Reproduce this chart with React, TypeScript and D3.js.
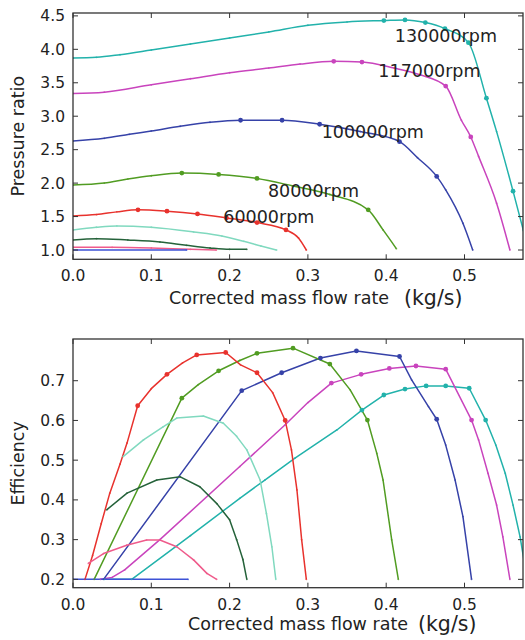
import React from 'react';
import * as d3 from 'd3';

// --- data ---
const speedLabels = ['130000rpm', '117000rpm', '100000rpm', '80000rpm', '60000rpm'];
const colors = ['#22b2ab', '#c944bd', '#3642a8', '#519c22', '#e8322d', '#80d9bf', '#25623a', '#ef5b8b', '#3d52d6'];

const xTicks = [0, 0.1, 0.2, 0.3, 0.4, 0.5];
const prTicks = [1.0, 1.5, 2.0, 2.5, 3.0, 3.5, 4.0, 4.5];
const effTicks = [0.2, 0.3, 0.4, 0.5, 0.6, 0.7];

// pressure ratio curves, order as colors
const pr130 = [[0, 3.87], [0.03, 3.88], [0.06, 3.92], [0.1, 3.99], [0.15, 4.08], [0.2, 4.17], [0.25, 4.26], [0.3, 4.36], [0.35, 4.41], [0.397, 4.43], [0.424, 4.44], [0.45, 4.40], [0.475, 4.31], [0.505, 4.10], [0.528, 3.27], [0.541, 2.77], [0.562, 1.88], [0.575, 1.30], [0.582, 1.0]];
const pr117 = [[0, 3.34], [0.04, 3.36], [0.1, 3.47], [0.15, 3.56], [0.2, 3.65], [0.25, 3.72], [0.29, 3.78], [0.333, 3.82], [0.369, 3.81], [0.41, 3.72], [0.443, 3.62], [0.476, 3.45], [0.496, 2.94], [0.508, 2.69], [0.518, 2.40], [0.541, 1.70], [0.558, 1.0]];
const pr100 = [[0, 2.63], [0.04, 2.67], [0.072, 2.73], [0.1, 2.78], [0.137, 2.85], [0.175, 2.91], [0.214, 2.94], [0.267, 2.94], [0.315, 2.88], [0.367, 2.77], [0.417, 2.62], [0.44, 2.38], [0.4645, 2.10], [0.476, 1.90], [0.498, 1.40], [0.5105, 1.0]];
const pr80 = [[0, 1.97], [0.04, 2.0], [0.07, 2.06], [0.1, 2.11], [0.139, 2.15], [0.186, 2.13], [0.235, 2.07], [0.28, 1.96], [0.328, 1.83], [0.377, 1.60], [0.396, 1.30], [0.413, 1.02]];
const pr60 = [[0, 1.51], [0.03, 1.53], [0.056, 1.57], [0.083, 1.60], [0.12, 1.58], [0.159, 1.54], [0.196, 1.48], [0.235, 1.41], [0.272, 1.30], [0.288, 1.18], [0.298, 1.0]];
const prA = [[0, 1.30], [0.03, 1.34], [0.056, 1.36], [0.1, 1.34], [0.154, 1.27], [0.19, 1.21], [0.218, 1.13], [0.24, 1.06], [0.26, 1.0]];
const prB = [[0, 1.15], [0.03, 1.17], [0.07, 1.15], [0.111, 1.12], [0.145, 1.07], [0.175, 1.03], [0.2, 1.01], [0.222, 1.01]];
const prC = [[0, 1.04], [0.05, 1.04], [0.1, 1.03], [0.15, 1.01], [0.183, 1.0]];
const prD = [[0, 1.0], [0.145, 1.0]];

const prMarks130 = [[0.397, 4.43], [0.424, 4.44], [0.45, 4.40], [0.475, 4.31], [0.505, 4.10], [0.528, 3.27], [0.562, 1.88]];
const prMarks117 = [[0.333, 3.82], [0.369, 3.81], [0.476, 3.45], [0.508, 2.69]];
const prMarks100 = [[0.214, 2.94], [0.267, 2.94], [0.315, 2.88], [0.417, 2.62], [0.4645, 2.10]];
const prMarks80 = [[0.139, 2.15], [0.186, 2.13], [0.235, 2.07], [0.377, 1.60]];
const prMarks60 = [[0.083, 1.60], [0.12, 1.58], [0.159, 1.54], [0.196, 1.48], [0.235, 1.41], [0.272, 1.30]];

// efficiency curves
const ef130 = [[0.04, 0.2], [0.075, 0.2], [0.15, 0.31], [0.213, 0.404], [0.245, 0.45], [0.2835, 0.505], [0.337, 0.576], [0.369, 0.626], [0.397, 0.664], [0.424, 0.679], [0.451, 0.687], [0.476, 0.687], [0.506, 0.681], [0.527, 0.601], [0.540, 0.538], [0.552, 0.467], [0.562, 0.387], [0.571, 0.307], [0.58, 0.2]];
const ef117 = [[0.035, 0.2], [0.05, 0.205], [0.066, 0.224], [0.111, 0.3], [0.213, 0.484], [0.271, 0.589], [0.30, 0.645], [0.330, 0.694], [0.368, 0.716], [0.404, 0.731], [0.438, 0.737], [0.476, 0.729], [0.509, 0.601], [0.518, 0.551], [0.530, 0.467], [0.541, 0.387], [0.549, 0.307], [0.558, 0.2]];
const ef100 = [[0.039, 0.2], [0.2155, 0.675], [0.2665, 0.72], [0.316, 0.757], [0.362, 0.775], [0.417, 0.761], [0.4325, 0.702], [0.454, 0.635], [0.4645, 0.603], [0.476, 0.538], [0.488, 0.45], [0.498, 0.358], [0.509, 0.2]];
const ef80 = [[0.027, 0.2], [0.139, 0.656], [0.16, 0.69], [0.186, 0.725], [0.213, 0.751], [0.235, 0.769], [0.281, 0.782], [0.328, 0.742], [0.354, 0.677], [0.376, 0.601], [0.388, 0.517], [0.396, 0.45], [0.407, 0.30], [0.4155, 0.2]];
const ef60 = [[0.0153, 0.2], [0.025, 0.26], [0.036, 0.34], [0.047, 0.417], [0.06, 0.49], [0.069, 0.543], [0.0826, 0.637], [0.1, 0.68], [0.12, 0.716], [0.14, 0.745], [0.158, 0.765], [0.195, 0.771], [0.214, 0.74], [0.235, 0.72], [0.255, 0.67], [0.271, 0.60], [0.279, 0.526], [0.286, 0.425], [0.292, 0.30], [0.298, 0.2]];
const efA = [[0.064, 0.509], [0.09, 0.551], [0.115, 0.584], [0.1325, 0.606], [0.1665, 0.611], [0.192, 0.593], [0.209, 0.56], [0.222, 0.526], [0.239, 0.45], [0.247, 0.366], [0.254, 0.282], [0.259, 0.2]];
const efB = [[0.043, 0.375], [0.069, 0.417], [0.107, 0.45], [0.137, 0.458], [0.162, 0.433], [0.184, 0.39], [0.2, 0.35], [0.209, 0.3], [0.217, 0.25], [0.222, 0.2]];
const efC = [[0.0196, 0.24], [0.039, 0.265], [0.0686, 0.286], [0.094, 0.299], [0.111, 0.299], [0.1325, 0.282], [0.154, 0.249], [0.171, 0.215], [0.1835, 0.2]];
const efD = [[0, 0.2], [0.147, 0.2]];

const efMarks130 = [[0.369, 0.626], [0.397, 0.664], [0.424, 0.679], [0.451, 0.687], [0.476, 0.687], [0.506, 0.681], [0.527, 0.601]];
const efMarks117 = [[0.330, 0.694], [0.368, 0.716], [0.404, 0.731], [0.438, 0.737], [0.476, 0.729], [0.509, 0.601]];
const efMarks100 = [[0.2155, 0.675], [0.2665, 0.72], [0.316, 0.757], [0.362, 0.775], [0.417, 0.761], [0.4645, 0.603]];
const efMarks80 = [[0.139, 0.656], [0.186, 0.725], [0.235, 0.769], [0.281, 0.782], [0.328, 0.742], [0.376, 0.601]];
const efMarks60 = [[0.0826, 0.637], [0.12, 0.716], [0.158, 0.765], [0.195, 0.771], [0.235, 0.72], [0.271, 0.60]];

const prSeries = [pr130, pr117, pr100, pr80, pr60, prA, prB, prC, prD];
const prMarks = [prMarks130, prMarks117, prMarks100, prMarks80, prMarks60];
const efSeries = [ef130, ef117, ef100, ef80, ef60, efA, efB, efC, efD];
const efMarks = [efMarks130, efMarks117, efMarks100, efMarks80, efMarks60];

// label anchor points (data coords, text baseline start) for the speed lines
const labelPos = [[0.411, 4.11], [0.39, 3.59], [0.3176, 2.667], [0.249, 1.797], [0.192, 1.408]];

const FONT = 'DejaVu Sans';
const W = 525, H = 640;
const left = 73, right = 523;

const x = d3.scaleLinear().domain([0, (right - left) / 783]).range([left, right]);
const yPr = d3.scaleLinear().domain([0.861, 4.543]).range([259.3, 13]);
const yEf = d3.scaleLinear().domain([0.179, 0.805]).range([587.7, 339]);

type Panel = {
  y: d3.ScaleLinear<number, number>;
  ticks: number[];
  fmt: (v: number) => string;
  series: number[][][];
  marks: number[][][];
  curve: d3.CurveFactory;
  id: string;
  ylabel: string;
  xlabelY: number;
  xlabelX: number;
  kgX: number;
};

const Frame = ({ p }: { p: Panel }) => {
  const [y0, y1] = p.y.range();
  const line = d3.line<number[]>().x(d => x(d[0])).y(d => p.y(d[1])).curve(p.curve);
  const tl = 5;
  return (
    <g>
      <defs>
        <clipPath id={p.id}>
          <rect x={left} y={y1} width={right - left} height={y0 - y1} />
        </clipPath>
      </defs>
      <g clipPath={`url(#${p.id})`}>
        {p.series.map((s, i) => (
          <path key={i} d={line(s) || ''} fill="none" stroke={colors[i]} strokeWidth={1.5} strokeLinejoin="round" />
        ))}
        {p.series.map((s, i) =>
          s.map((d, j) => (
            <circle key={`s${i}-${j}`} cx={x(d[0])} cy={p.y(d[1])} r={0.9} fill={colors[i]} opacity={0.8} />
          ))
        )}
        {p.marks.map((m, i) =>
          m.map((d, j) => (
            <circle key={`m${i}-${j}`} cx={x(d[0])} cy={p.y(d[1])} r={2.4} fill={colors[i]} />
          ))
        )}
      </g>
      <rect x={left} y={y1} width={right - left} height={y0 - y1} fill="none" stroke="#333" strokeWidth={1.3} />
      {xTicks.map(t => (
        <g key={`xt${t}`}>
          <line x1={x(t)} x2={x(t)} y1={y0} y2={y0 - tl} stroke="#333" />
          <line x1={x(t)} x2={x(t)} y1={y1} y2={y1 + tl} stroke="#333" />
          <text x={x(t)} y={y0 + 22} textAnchor="middle" fontFamily={FONT} fontSize={15.5} fill="#222">
            {t.toFixed(1)}
          </text>
        </g>
      ))}
      {p.ticks.map(t => (
        <g key={`yt${t}`}>
          <line x1={left} x2={left + tl} y1={p.y(t)} y2={p.y(t)} stroke="#333" />
          <line x1={right} x2={right - tl} y1={p.y(t)} y2={p.y(t)} stroke="#333" />
          <text x={65} y={p.y(t) + 5.5} textAnchor="end" fontFamily={FONT} fontSize={15.5} fill="#222">
            {p.fmt(t)}
          </text>
        </g>
      ))}
      <text transform={`translate(24,${(y0 + y1) / 2}) rotate(-90)`} textAnchor="middle" fontFamily={FONT} fontSize={17.5} fill="#222">
        {p.ylabel}
      </text>
      <text x={p.xlabelX} y={p.xlabelY} fontFamily={FONT} fontSize={17.5} fill="#222">
        Corrected mass flow rate
      </text>
      <text x={p.kgX} y={p.xlabelY + 1} fontFamily={FONT} fontSize={20.5} fill="#222">
        (kg/s)
      </text>
    </g>
  );
};

export default function App() {
  const top: Panel = {
    y: yPr, ticks: prTicks, fmt: v => v.toFixed(1), series: prSeries, marks: prMarks,
    curve: d3.curveMonotoneX, id: 'clipTop', ylabel: 'Pressure ratio',
    xlabelY: 304, xlabelX: 169, kgX: 404,
  };
  const bottom: Panel = {
    y: yEf, ticks: effTicks, fmt: v => v.toFixed(1), series: efSeries, marks: efMarks,
    curve: d3.curveLinear, id: 'clipBottom', ylabel: 'Efficiency',
    xlabelY: 630, xlabelX: 188, kgX: 418,
  };
  return (
    <svg width={W} height={H} style={{ position: 'absolute', left: 0, top: 0, background: '#fff' }}>
      <Frame p={top} />
      <Frame p={bottom} />
      {speedLabels.map((s, i) => (
        <text key={s} x={x(labelPos[i][0])} y={yPr(labelPos[i][1])} fontFamily={FONT} fontSize={17.5} fill="#222">
          {s}
        </text>
      ))}
    </svg>
  );
}
